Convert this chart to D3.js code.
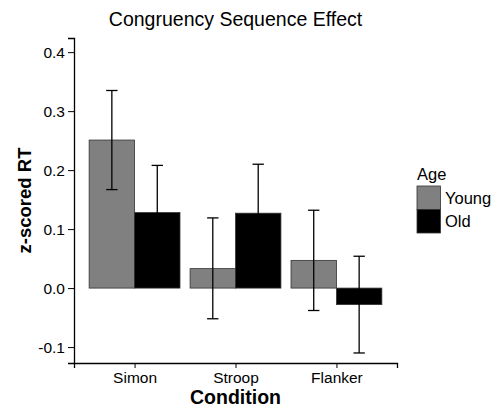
<!DOCTYPE html>
<html>
<head>
<meta charset="utf-8">
<script src="https://cdn.jsdelivr.net/npm/d3@7"></script>
<style>
  body { margin: 0; background: #fff; }
  svg text { font-family: "Liberation Sans", Arial, sans-serif; fill: #000; }
</style>
</head>
<body>
<div id="chart"></div>
<script>
// -- data --
const conditions = ['Simon', 'Stroop', 'Flanker'];
const groups = ['Young', 'Old'];
const groupColors = ['#808080', '#000000'];
const youngMean = [0.251, 0.033, 0.047];
const youngUpper = [0.335, 0.119, 0.132];
const youngLower = [0.167, -0.052, -0.038];
const oldMean = [0.128, 0.127, -0.028];
const oldUpper = [0.208, 0.210, 0.054];
const oldLower = [0.049, 0.043, -0.110];
const yTicks = [-0.1, 0.0, 0.1, 0.2, 0.3, 0.4];

const W = 499, H = 408;
const m = { left: 74, top: 38, right: 102, bottom: 45 };

const rows = [];
conditions.forEach((c, i) => {
  rows.push({ cond: c, group: 'Young', mean: youngMean[i], hi: youngUpper[i], lo: youngLower[i] });
  rows.push({ cond: c, group: 'Old', mean: oldMean[i], hi: oldUpper[i], lo: oldLower[i] });
});

const svg = d3.select('#chart').append('svg')
  .attr('width', W).attr('height', H);

const x0 = d3.scalePoint()
  .domain(conditions)
  .range([m.left, W - m.right])
  .padding(0.6);
const step = x0.step();
const x1 = d3.scaleBand()
  .domain(groups)
  .range([-step * 0.45, step * 0.45]);

const y = d3.scaleLinear()
  .domain([-0.127, 0.424])
  .range([H - m.bottom, m.top]);

const color = d3.scaleOrdinal().domain(groups).range(groupColors);

// bars
svg.append('g').selectAll('rect')
  .data(rows)
  .enter().append('rect')
  .attr('x', d => x0(d.cond) + x1(d.group))
  .attr('width', x1.bandwidth())
  .attr('y', d => y(Math.max(0, d.mean)))
  .attr('height', d => Math.abs(y(d.mean) - y(0)))
  .attr('fill', d => color(d.group))
  .attr('stroke', '#333')
  .attr('stroke-width', 0.8);

// error bars
const capW = x1.bandwidth() * 0.25;
const eb = svg.append('g').attr('stroke', '#000').attr('stroke-width', 1.3).attr('fill', 'none');
rows.forEach(d => {
  const cx = x0(d.cond) + x1(d.group) + x1.bandwidth() / 2;
  eb.append('line').attr('x1', cx).attr('x2', cx).attr('y1', y(d.lo)).attr('y2', y(d.hi));
  eb.append('line').attr('x1', cx - capW / 2).attr('x2', cx + capW / 2).attr('y1', y(d.hi)).attr('y2', y(d.hi));
  eb.append('line').attr('x1', cx - capW / 2).attr('x2', cx + capW / 2).attr('y1', y(d.lo)).attr('y2', y(d.lo));
});

// axes (plain hyphen for negatives, as in the reference)
const fmt = v => d3.format('.1f')(v).replace('\u2212', '-');
const yAxis = svg.append('g')
  .attr('transform', `translate(${m.left},0)`)
  .call(d3.axisLeft(y).tickValues(yTicks).tickFormat(fmt).tickSizeOuter(0).tickSize(6).tickPadding(3));
const xAxis = svg.append('g')
  .attr('transform', `translate(0,${H - m.bottom})`)
  .call(d3.axisBottom(x0).tickSizeOuter(0).tickSize(5).tickPadding(4));
[yAxis, xAxis].forEach(a => {
  a.select('.domain').attr('stroke', '#000').attr('stroke-width', 1.3);
  a.selectAll('.tick line').attr('stroke', '#000').attr('stroke-width', 1);
  a.selectAll('.tick text').attr('font-size', '15.5px').attr('fill', '#000')
    .style('font-family', '"Liberation Sans", Arial, sans-serif');
});

// titles
svg.append('text')
  .attr('x', (m.left + W - m.right) / 2).attr('y', 26)
  .attr('text-anchor', 'middle').attr('font-size', '19.5px')
  .text('Congruency Sequence Effect');

svg.append('text')
  .attr('x', (m.left + W - m.right) / 2).attr('y', 404)
  .attr('text-anchor', 'middle').attr('font-size', '19.5px').attr('font-weight', 'bold')
  .text('Condition');

svg.append('text')
  .attr('transform', `translate(31,${(m.top + H - m.bottom) / 2}) rotate(-90)`)
  .attr('text-anchor', 'middle').attr('font-size', '18.5px').attr('font-weight', 'bold')
  .text('z-scored RT');

// legend
const lg = svg.append('g').attr('transform', 'translate(417,180)');
lg.append('text').attr('x', 0).attr('y', 0).attr('font-size', '16.5px').text('Age');
groups.forEach((g, i) => {
  lg.append('rect')
    .attr('x', 0).attr('y', 6 + i * 23.5)
    .attr('width', 23.5).attr('height', 23.5)
    .attr('fill', color(g)).attr('stroke', '#333').attr('stroke-width', 0.8);
  lg.append('text')
    .attr('x', 28).attr('y', 6 + i * 23.5 + 17.5)
    .attr('font-size', '16.5px').text(g);
});
</script>
</body>
</html>
